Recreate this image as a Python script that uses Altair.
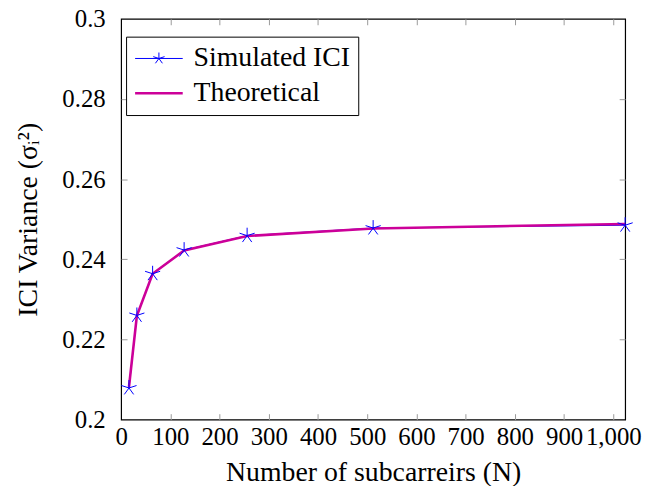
import altair as alt
import pandas as pd

# ---- data ----
n_values = [16, 32, 64, 128, 256, 512, 1024]
simulated = [0.2079, 0.2260, 0.2364, 0.2423, 0.2459, 0.2478, 0.2485]
theoretical = [0.2082, 0.2259, 0.2364, 0.2422, 0.2458, 0.2477, 0.2488]
series_names = ["Simulated ICI", "Theoretical"]
series_colors = ["#0000ff", "#cc0099"]
series_widths = [1, 2.6]
x_ticks = [0, 100, 200, 300, 400, 500, 600, 700, 800, 900, 1000]
y_ticks = [0.2, 0.22, 0.24, 0.26, 0.28, 0.3]

FONT = "serif"


def star_path(cx=0.0):
    rays = [(0, -1), (0.951, -0.309), (-0.951, -0.309), (-0.588, 0.809), (0.588, 0.809)]
    return "".join(f"M{cx:.3f},0L{cx + dx:.3f},{dy:.3f}" for dx, dy in rays)


STAR = star_path(0.0)
SHIFT = 1.85
LEG_LINE = f"M{SHIFT - 4:.3f},0H{SHIFT + 4:.3f}"
LEG_STAR = LEG_LINE + star_path(SHIFT)

df = pd.DataFrame({
    "N": n_values + n_values,
    "var": simulated + theoretical,
    "series": [series_names[0]] * len(n_values) + [series_names[1]] * len(n_values),
})

xs = alt.Scale(domain=[0, 1024], nice=False, zero=False)
ys = alt.Scale(domain=[0.2, 0.3], nice=False, zero=False)

grid_style = dict(labels=False, ticks=False, domain=False, grid=True,
                  gridDash=[6, 3000], gridColor="#9a9a9a", gridWidth=1, title=None)

base = alt.Chart(df)

# Layer A: simulated line + labelled axes
sim_line = base.transform_filter(alt.datum.series == series_names[0]).mark_line(
    color=series_colors[0], strokeWidth=series_widths[0]
).encode(
    x=alt.X("N:Q", scale=xs, axis=alt.Axis(
        orient="bottom", values=x_ticks, format=",d", grid=False, ticks=False,
        domain=False, title="Number of subcarreirs (N)", labelPadding=5,
        titlePadding=9, labelFlush=False, labelOverlap=False,
        labelFont=FONT, titleFont=FONT)),
    y=alt.Y("var:Q", scale=ys, axis=alt.Axis(
        orient="left", values=y_ticks, format="~g", grid=False, ticks=False,
        domain=False, title="ICI Variance (σᵢ²)", labelPadding=16,
        titlePadding=20, labelFlush=False, labelOverlap=False,
        labelFont=FONT, titleFont=FONT)),
)

# Layer B: theoretical line + inner ticks bottom/left
theo_line = base.transform_filter(alt.datum.series == series_names[1]).mark_line(
    color=series_colors[1], strokeWidth=series_widths[1]
).encode(
    x=alt.X("N:Q", scale=xs, axis=alt.Axis(orient="bottom", values=x_ticks[1:], **grid_style)),
    y=alt.Y("var:Q", scale=ys, axis=alt.Axis(orient="left", values=y_ticks[1:-1], **grid_style)),
)

# Layer C: simulated star markers + inner ticks top/right
sim_pts = base.transform_filter(alt.datum.series == series_names[0]).mark_point(
    shape=STAR, size=256, filled=False, color=series_colors[0], strokeWidth=1, opacity=1
).encode(
    x=alt.X("N:Q", scale=xs, axis=alt.Axis(orient="top", values=x_ticks[1:], **grid_style)),
    y=alt.Y("var:Q", scale=ys, axis=alt.Axis(orient="right", values=y_ticks[1:-1], **grid_style)),
)

leg = dict(orient="none", legendX=5, legendY=18, title=None, padding=8,
           strokeColor="#000000", fillColor="#ffffff", labelFont=FONT,
           labelFontSize=28, labelColor="black", labelOffset=32, rowPadding=7,
           symbolSize=144, labelLimit=0)

# Layer D: legend only (no visible marks)
legend_layer = base.transform_filter("false").mark_point(
    filled=False, size=144, opacity=1
).encode(
    x=alt.X("N:Q", scale=xs, axis=None),
    y=alt.Y("var:Q", scale=ys, axis=None),
    color=alt.Color("series:N", scale=alt.Scale(domain=series_names, range=series_colors),
                    legend=alt.Legend(**leg)),
    shape=alt.Shape("series:N", scale=alt.Scale(domain=series_names, range=[LEG_STAR, LEG_LINE]),
                    legend=alt.Legend(**leg)),
    strokeWidth=alt.StrokeWidth("series:N", scale=alt.Scale(domain=series_names, range=series_widths),
                                legend=alt.Legend(**leg)),
)

chart = alt.layer(sim_line, theo_line, sim_pts, legend_layer).resolve_axis(
    x="independent", y="independent"
).properties(
    width=508, height=404,
    autosize=alt.AutoSizeParams(type="none"),
    padding={"left": 114, "top": 9, "right": 20, "bottom": 65},
).configure_view(
    stroke="black", strokeWidth=1.2
).configure_axis(
    labelFont=FONT, titleFont=FONT, labelFontSize=25, titleFontSize=28,
    labelColor="black", titleColor="black", titleFontWeight="normal",
).configure_legend(
    labelFont=FONT
)

chart.save("out.html", embed_options={"renderer": "svg", "actions": False})
